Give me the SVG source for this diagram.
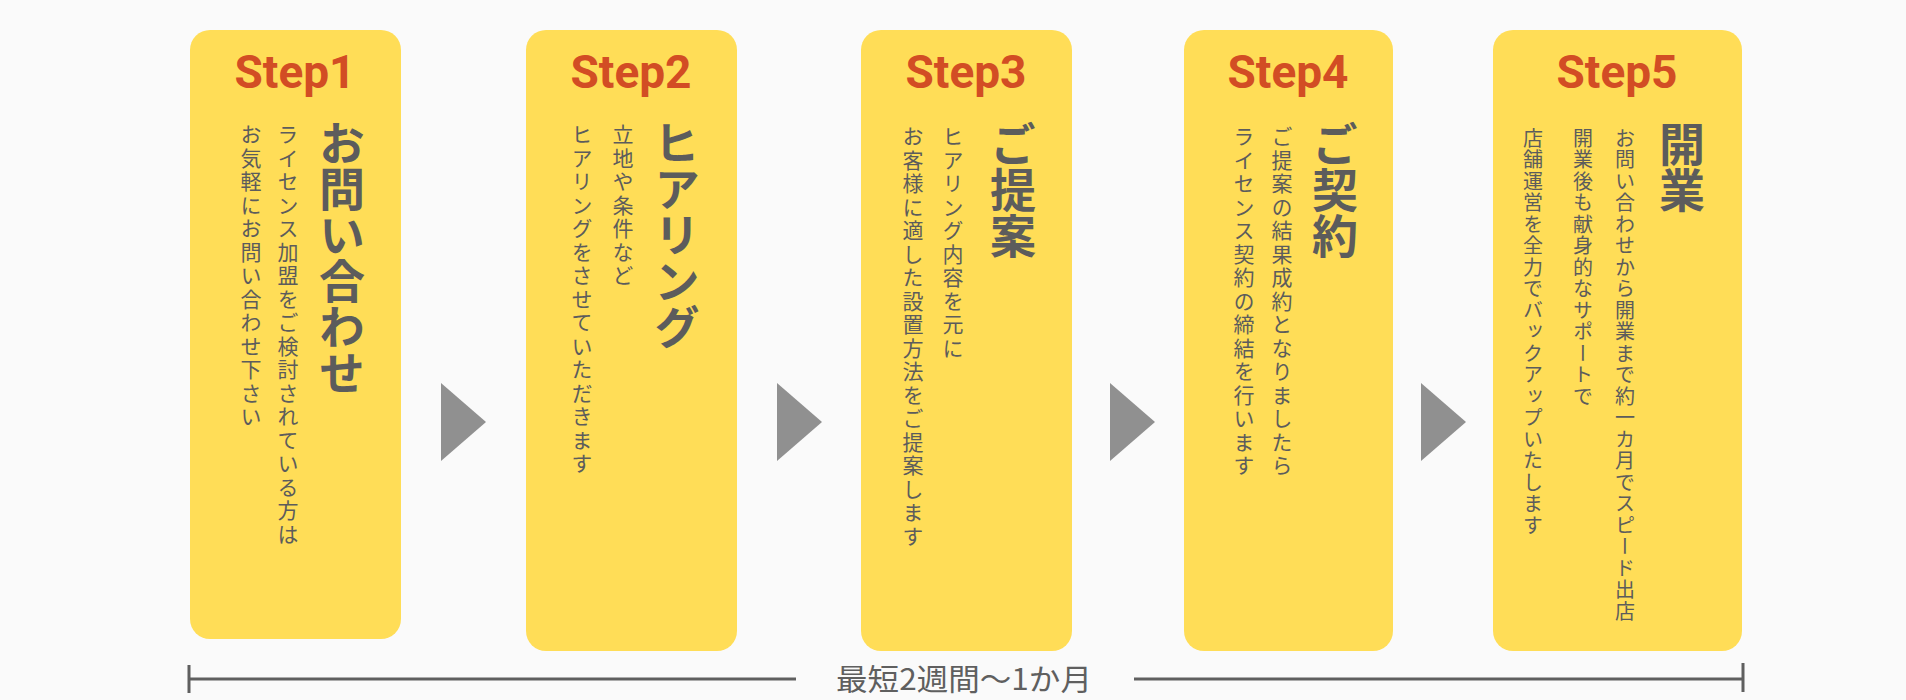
<svg xmlns="http://www.w3.org/2000/svg" width="1906" height="700" viewBox="0 0 1906 700">
<style>
.box{fill:#ffdd57}
.step{font-family:Roboto,"Noto Sans",sans-serif;font-weight:700;font-size:46px;fill:#d24d24;text-anchor:middle}
.title{font-family:"Noto Sans CJK JP",sans-serif;font-weight:700;font-size:46px;fill:#5c5c5c;writing-mode:vertical-rl}
.desc{font-family:"Noto Sans CJK JP",sans-serif;font-size:21px;letter-spacing:2.5px;fill:#5c5c5c;writing-mode:vertical-rl}
.desc5{font-family:"Noto Sans CJK JP",sans-serif;font-size:20px;letter-spacing:1.5px;fill:#5c5c5c;writing-mode:vertical-rl}
.arrow{fill:#909090}
.line{stroke:#5f5f5f;stroke-width:3;fill:none}
.period{font-family:"Noto Sans CJK JP",sans-serif;font-size:30px;fill:#5f5f5f;text-anchor:middle}
</style>
<rect x="0" y="0" width="1906" height="700" fill="#fafafa"/>
<g id="step1">
<rect class="box" x="190" y="30" width="211" height="609" rx="20"/>
<text class="step" x="295" y="88">Step1</text>
<text class="title" x="342" y="120">お問い合わせ</text>
<text class="desc" x="288" y="124">ライセンス加盟をご検討されている方は</text>
<text class="desc" x="251" y="124">お気軽にお問い合わせ下さい</text>
</g>
<g id="step2">
<rect class="box" x="526" y="30" width="211" height="621" rx="20"/>
<text class="step" x="631" y="88">Step2</text>
<text class="title" x="677" y="120">ヒアリング</text>
<text class="desc" x="623" y="124">立地や条件など</text>
<text class="desc" x="582" y="124">ヒアリングをさせていただきます</text>
</g>
<g id="step3">
<rect class="box" x="861" y="30" width="211" height="621" rx="20"/>
<text class="step" x="966" y="88">Step3</text>
<text class="title" x="1013" y="121">ご提案</text>
<text class="desc" x="953" y="126">ヒアリング内容を元に</text>
<text class="desc" x="913" y="126">お客様に適した設置方法をご提案します</text>
</g>
<g id="step4">
<rect class="box" x="1184" y="30" width="209" height="621" rx="20"/>
<text class="step" x="1288" y="88">Step4</text>
<text class="title" x="1335" y="121">ご契約</text>
<text class="desc" x="1282" y="126">ご提案の結果成約となりましたら</text>
<text class="desc" x="1244" y="126">ライセンス契約の締結を行います</text>
</g>
<g id="step5">
<rect class="box" x="1493" y="30" width="249" height="621" rx="20"/>
<text class="step" x="1617" y="88">Step5</text>
<text class="title" x="1682" y="121">開業</text>
<text class="desc5" x="1625" y="128">お問い合わせから開業まで約一カ月でスピード出店</text>
<text class="desc5" x="1583" y="128">開業後も献身的なサポートで</text>
<text class="desc5" x="1533" y="128">店舗運営を全力でバックアップいたします</text>
</g>
<g id="connectors">
<polygon class="arrow" points="441,383 486,422 441,461"/>
<polygon class="arrow" points="777,383 822,422 777,461"/>
<polygon class="arrow" points="1110,383 1155,422 1110,461"/>
<polygon class="arrow" points="1421,383 1466,422 1421,461"/>
</g>
<g id="period">
<line class="line" x1="189" y1="679" x2="796" y2="679"/>
<line class="line" x1="189" y1="665" x2="189" y2="693"/>
<line class="line" x1="1134" y1="679" x2="1743" y2="679"/>
<line class="line" x1="1743" y1="663" x2="1743" y2="692"/>
<text class="period" x="964" y="690" textLength="256" lengthAdjust="spacingAndGlyphs">最短2週間〜1か月</text>
</g>
</svg>
